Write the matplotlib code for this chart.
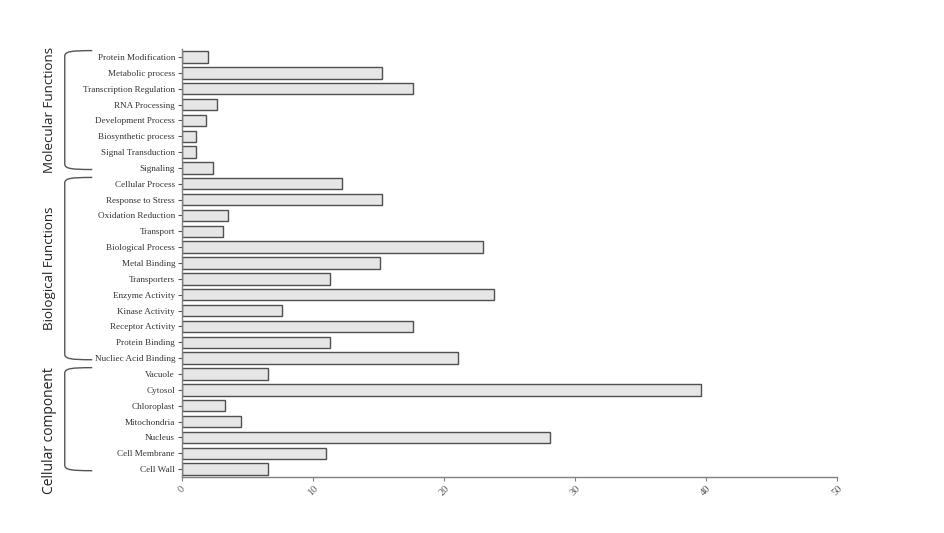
"""
Distributie GO pe categorii: bare orizontale grupate (MF / BF / CC).
"""

import matplotlib
matplotlib.use('Agg')
import matplotlib.pyplot as plt
from matplotlib.path import Path
from matplotlib.patches import PathPatch
import matplotlib.transforms as mtransforms


# --- date (de sus in jos) ---
MOLECULAR = ['Protein Modification', 'Metabolic process', 'Transcription Regulation',
             'RNA Processing', 'Development Process', 'Biosynthetic process',
             'Signal Transduction', 'Signaling']
MOLECULAR_VALS = [2.0, 15.3, 17.6, 2.7, 1.8, 1.1, 1.1, 2.4]

BIOLOGICAL = ['Cellular Process', 'Response to Stress', 'Oxidation Reduction', 'Transport',
              'Biological Process', 'Metal Binding', 'Transporters', 'Enzyme Activity',
              'Kinase Activity', 'Receptor Activity', 'Protein Binding', 'Nucliec Acid Binding']
BIOLOGICAL_VALS = [12.2, 15.3, 3.5, 3.1, 23.0, 15.1, 11.3, 23.8, 7.6, 17.6, 11.3, 21.1]

CELLULAR = ['Vacuole', 'Cytosol', 'Chloroplast', 'Mitochondria', 'Nucleus',
            'Cell Membrane', 'Cell Wall']
CELLULAR_VALS = [6.6, 39.6, 3.3, 4.5, 28.1, 11.0, 6.6]

GROUPS = ['Molecular Functions', 'Biological Functions', 'Cellular component']
X_TICKS = [0, 10, 20, 30, 40, 50]

labels = MOLECULAR + BIOLOGICAL + CELLULAR
values = MOLECULAR_VALS + BIOLOGICAL_VALS + CELLULAR_VALS
n = len(labels)
ypos = [n - 1 - i for i in range(n)]

fig = plt.figure(figsize=(9.44, 5.33), dpi=100)
ax = fig.add_axes([0.1928, 0.105, 0.6939, 0.803])

ax.barh(ypos, values, height=0.72, color='#e6e6e6', edgecolor='#505050', linewidth=1.0)

ax.set_xlim(0, 50)
ax.set_ylim(-0.5, n - 0.5)
ax.set_xticks(X_TICKS)
ax.set_xticklabels([str(t) for t in X_TICKS], rotation=45, fontsize=7.5,
                   color='#555555', family='Liberation Serif')
ax.set_yticks(ypos)
ax.set_yticklabels(labels, fontsize=6.6, family='Liberation Serif', color='#333333')

for side in ('top', 'right'):
    ax.spines[side].set_visible(False)
for side in ('left', 'bottom'):
    ax.spines[side].set_color('#808080')
    ax.spines[side].set_linewidth(1.0)
ax.tick_params(axis='y', length=3, width=0.8, color='#555555', pad=2)
ax.tick_params(axis='x', length=3, width=0.8, color='#808080', pad=2)

# --- acolade pe stanga (x in fractie axa, y in date) ---
trans = mtransforms.blended_transform_factory(ax.transAxes, ax.transData)
x_line = -0.179
x_end = -0.137


def bracket(y_top, y_bot):
    r = 0.35
    verts = [
        (x_end, y_top), (x_line + 0.01, y_top), (x_line, y_top - 0.05), (x_line, y_top - r),
        (x_line, y_bot + r),
        (x_line, y_bot + 0.05), (x_line + 0.01, y_bot), (x_end, y_bot),
    ]
    codes = [Path.MOVETO, Path.CURVE4, Path.CURVE4, Path.CURVE4,
             Path.LINETO,
             Path.CURVE4, Path.CURVE4, Path.CURVE4]
    p = PathPatch(Path(verts, codes), transform=trans, fill=False,
                  edgecolor='#555555', linewidth=1.0, clip_on=False)
    ax.add_patch(p)


# limitele grupurilor: index primul / ultimul
spans = [(0, len(MOLECULAR) - 1),
         (len(MOLECULAR), len(MOLECULAR) + len(BIOLOGICAL) - 1),
         (len(MOLECULAR) + len(BIOLOGICAL), n - 1)]
text_y = [None, None, None]
for k, (a, b) in enumerate(spans):
    y_top = ypos[a] + 0.4
    y_bot = ypos[b] - 0.1
    bracket(y_top, y_bot)
    text_y[k] = (y_top + y_bot) / 2

# ultimul text e mai jos decat acolada
text_y[2] -= 0.7
sizes = [9.6, 9.6, 10.0]

for k, g in enumerate(GROUPS):
    ax.text(-0.203, text_y[k], g, transform=trans, rotation=90, ha='center', va='center',
            fontsize=sizes[k], family='Open Sans', color='#222222', clip_on=False)

fig.savefig('out.png', dpi=100)
